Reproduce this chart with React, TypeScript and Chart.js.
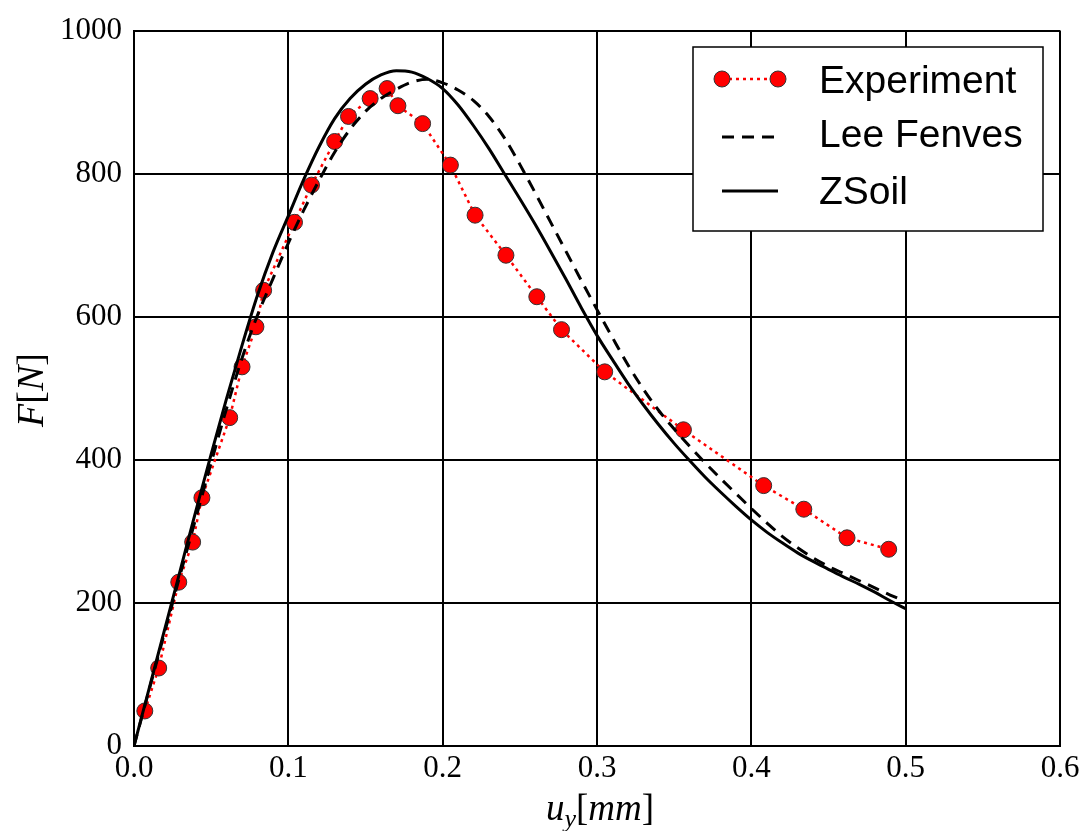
import React, { useEffect, useRef } from "react";
import { Chart, registerables } from "chart.js";

Chart.register(...registerables);

// ---- data ----
const expU = [0.007, 0.016, 0.029, 0.038, 0.044, 0.062, 0.07, 0.079, 0.084, 0.104, 0.115, 0.13, 0.139, 0.153, 0.164, 0.171, 0.187, 0.205, 0.221, 0.241, 0.261, 0.277, 0.305, 0.356, 0.408, 0.434, 0.462, 0.489];
const expF = [49, 109, 229, 285, 347, 459, 530, 586, 637, 732, 784, 845, 880, 905, 919, 895, 870, 812, 742, 686, 628, 582, 523, 442, 364, 331, 291, 275];

const curveU = [0, 0.01, 0.02, 0.03, 0.04, 0.05, 0.06, 0.07, 0.08, 0.09, 0.1, 0.11, 0.12, 0.13, 0.14, 0.15, 0.16, 0.17, 0.18, 0.19, 0.2, 0.21, 0.22, 0.23, 0.24, 0.25, 0.26, 0.27, 0.28, 0.29, 0.3, 0.31, 0.32, 0.33, 0.34, 0.35, 0.36, 0.37, 0.38, 0.39, 0.4, 0.41, 0.42, 0.43, 0.44, 0.45, 0.46, 0.47, 0.48, 0.49, 0.5];
const leeF = [0, 80, 160, 240, 318, 396, 472, 542, 602, 653, 703, 749, 791, 830, 862, 887, 905, 918, 928, 932, 927, 917, 902, 880, 850, 813, 773, 732, 691, 650, 610, 571, 533, 499, 469, 443, 419, 396, 374, 353, 332, 312, 293, 277, 263, 251, 241, 231, 221, 211, 202];
const zsoilF = [0, 82, 164, 246, 328, 408, 486, 560, 630, 690, 741, 792, 838, 877, 905, 925, 938, 944, 942, 933, 919, 896, 867, 835, 800, 765, 729, 691, 652, 612, 574, 540, 507, 477, 449, 423, 399, 376, 355, 335, 316, 299, 284, 270, 258, 247, 236, 226, 215, 203, 192];

const seriesNames = ["Experiment", "Lee Fenves", "ZSoil"];
const xTicks = [0, 0.1, 0.2, 0.3, 0.4, 0.5, 0.6];
const yTicks = [0, 200, 400, 600, 800, 1000];

const W = 1085;
const H = 831;

const pts = (xs: number[], ys: number[]) => xs.map((x, i) => ({ x, y: ys[i] }));

const overlayPlugin = {
  id: "overlay",
  afterDraw(chart: any) {
    const ctx = chart.ctx as CanvasRenderingContext2D;
    ctx.save();
    // Legend
    const lx = 693, ly = 47, lw = 350, lh = 184;
    ctx.fillStyle = "#fff";
    ctx.fillRect(lx, ly, lw, lh);
    ctx.strokeStyle = "#000";
    ctx.lineWidth = 1.5;
    ctx.setLineDash([]);
    ctx.strokeRect(lx, ly, lw, lh);

    const x0 = 722, x1 = 778;
    // Experiment
    ctx.strokeStyle = "#ff0000";
    ctx.lineWidth = 2.5;
    ctx.setLineDash([3, 4]);
    ctx.beginPath();
    ctx.moveTo(x0, 79);
    ctx.lineTo(x1, 79);
    ctx.stroke();
    ctx.setLineDash([]);
    for (const px of [x0, x1]) {
      ctx.beginPath();
      ctx.arc(px, 79, 8, 0, Math.PI * 2);
      ctx.fillStyle = "#ff0000";
      ctx.fill();
      ctx.strokeStyle = "#333";
      ctx.lineWidth = 1;
      ctx.stroke();
    }
    // Lee Fenves
    ctx.strokeStyle = "#000";
    ctx.lineWidth = 3;
    ctx.setLineDash([12, 8]);
    ctx.beginPath();
    ctx.moveTo(x0, 137);
    ctx.lineTo(x1, 137);
    ctx.stroke();
    // ZSoil
    ctx.setLineDash([]);
    ctx.beginPath();
    ctx.moveTo(x0, 191);
    ctx.lineTo(x1, 191);
    ctx.stroke();

    ctx.fillStyle = "#000";
    ctx.font = '39px "Liberation Sans", Arial, sans-serif';
    ctx.textAlign = "left";
    ctx.textBaseline = "alphabetic";
    ctx.fillText(seriesNames[0], 819, 93);
    ctx.fillText(seriesNames[1], 819, 147);
    ctx.fillText(seriesNames[2], 819, 204);

    // X axis title: u_y[mm]
    const serifI = 'italic 37px "Liberation Serif", "Times New Roman", serif';
    const serif = '37px "Liberation Serif", "Times New Roman", serif';
    const serifSub = 'italic 26px "Liberation Serif", "Times New Roman", serif';
    const parts: [string, string, number][] = [
      ["u", serifI, 0],
      ["y", serifSub, 7],
      ["[", serif, 0],
      ["mm", serifI, 0],
      ["]", serif, 0],
    ];
    let total = 0;
    for (const [t, f] of parts) {
      ctx.font = f;
      total += ctx.measureText(t).width;
    }
    let cx = 600 - total / 2;
    const baseY = 820;
    for (const [t, f, dy] of parts) {
      ctx.font = f;
      ctx.fillText(t, cx, baseY + dy);
      cx += ctx.measureText(t).width;
    }

    // Y axis title: F[N]
    ctx.save();
    ctx.translate(43, 390);
    ctx.rotate(-Math.PI / 2);
    const yparts: [string, string][] = [
      ["F", 'italic 38px "Liberation Serif", "Times New Roman", serif'],
      ["[", '38px "Liberation Serif", "Times New Roman", serif'],
      ["N", 'italic 38px "Liberation Serif", "Times New Roman", serif'],
      ["]", '38px "Liberation Serif", "Times New Roman", serif'],
    ];
    let ytot = 0;
    for (const [t, f] of yparts) {
      ctx.font = f;
      ytot += ctx.measureText(t).width;
    }
    let yx = -ytot / 2;
    for (const [t, f] of yparts) {
      ctx.font = f;
      ctx.fillText(t, yx, 0);
      yx += ctx.measureText(t).width;
    }
    ctx.restore();

    ctx.restore();
  },
};

export default function App() {
  const ref = useRef<HTMLCanvasElement | null>(null);
  useEffect(() => {
    if (!ref.current) return;
    const tickFont = { family: '"Liberation Serif", "Times New Roman", serif', size: 31 };
    const chart = new Chart(ref.current, {
      type: "line",
      data: {
        datasets: [
          {
            label: seriesNames[0],
            data: pts(expU, expF),
            borderColor: "#ff0000",
            borderWidth: 2.5,
            borderDash: [3, 4],
            pointRadius: 8,
            pointBackgroundColor: "#ff0000",
            pointBorderColor: "#333",
            pointBorderWidth: 1,
            pointStyle: "circle",
            tension: 0,
            order: 3,
          },
          {
            label: seriesNames[1],
            data: pts(curveU, leeF),
            borderColor: "#000",
            borderWidth: 3,
            borderDash: [12, 8],
            pointRadius: 0,
            cubicInterpolationMode: "monotone",
            order: 2,
          },
          {
            label: seriesNames[2],
            data: pts(curveU, zsoilF),
            borderColor: "#000",
            borderWidth: 3,
            pointRadius: 0,
            cubicInterpolationMode: "monotone",
            order: 1,
          },
        ],
      },
      options: {
        animation: false,
        responsive: false,
        maintainAspectRatio: false,
        layout: { padding: { left: 0, top: 29, right: 25, bottom: 0 } },
        plugins: { legend: { display: false }, tooltip: { enabled: false } },
        scales: {
          x: {
            type: "linear",
            min: 0,
            max: 0.6,
            afterBuildTicks: (s: any) => {
              s.ticks = xTicks.map((v) => ({ value: v }));
            },
            afterFit: (s: any) => {
              s.height = 85;
            },
            ticks: {
              font: tickFont,
              color: "#000",
              padding: 4,
              callback: (v: any) => Number(v).toFixed(1),
              maxRotation: 0,
            },
            grid: { color: "#000", lineWidth: 2, drawTicks: false, tickLength: 0 },
            border: { color: "#000", width: 2 },
          },
          y: {
            type: "linear",
            min: 0,
            max: 1000,
            afterBuildTicks: (s: any) => {
              s.ticks = yTicks.map((v) => ({ value: v }));
            },
            afterFit: (s: any) => {
              s.width = 134;
            },
            ticks: {
              font: tickFont,
              color: "#000",
              padding: 12,
              callback: (v: any) => String(v),
            },
            grid: { color: "#000", lineWidth: 2, drawTicks: false, tickLength: 0 },
            border: { color: "#000", width: 2 },
          },
        },
      },
      plugins: [overlayPlugin],
    } as any);
    return () => chart.destroy();
  }, []);
  return (
    <div style={{ position: "absolute", left: 0, top: 0, width: W, height: H, background: "#fff" }}>
      <canvas ref={ref} width={W} height={H} style={{ width: W, height: H, display: "block" }} />
    </div>
  );
}
